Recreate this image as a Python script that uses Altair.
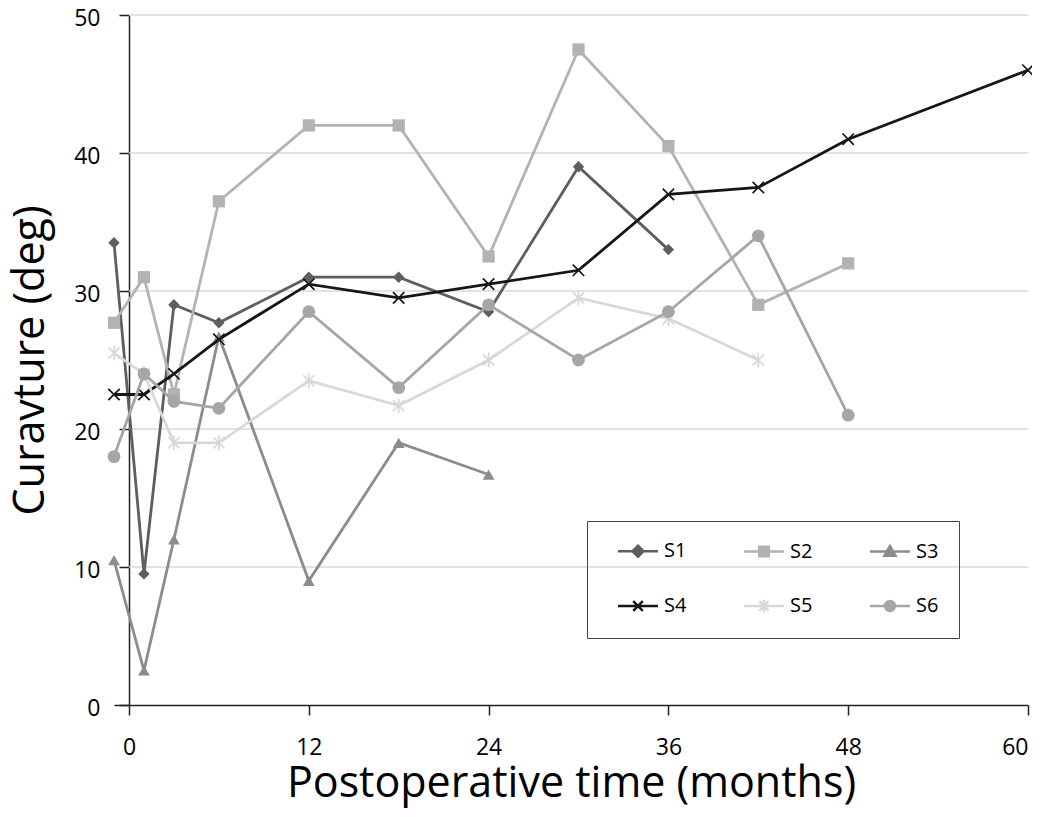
import altair as alt
import pandas as pd

# ---- data ----
months = [-1, 1, 3, 6, 12, 18, 24, 30, 36, 42, 48, 60]
names = ["S1", "S2", "S3", "S4", "S5", "S6"]
s1 = [33.5, 9.5, 29.0, 27.7, 31.0, 31.0, 28.5, 39.0, 33.0]
s2 = [27.7, 31.0, 22.5, 36.5, 42.0, 42.0, 32.5, 47.5, 40.5, 29.0, 32.0]
s3 = [10.5, 2.5, 12.0, 26.7, 9.0, 19.0, 16.7]
s4 = [22.5, 22.5, 24.0, 26.5, 30.5, 29.5, 30.5, 31.5, 37.0, 37.5, 41.0, 46.0]
s5 = [25.5, 24.0, 19.0, 19.0, 23.5, 21.7, 25.0, 29.5, 28.0, 25.0]
s6 = [18.0, 24.0, 22.0, 21.5, 28.5, 23.0, 29.0, 25.0, 28.5, 34.0, 21.0]
series_vals = [s1, s2, s3, s4, s5, s6]
x_ticks = [0, 12, 24, 36, 48, 60]
y_ticks = [0, 10, 20, 30, 40, 50]
grid_vals = [10, 20, 30, 40, 50]

# ---- styles ----
colors = ["#5e5e5e", "#b3b3b3", "#8c8c8c", "#161616", "#d8d8d8", "#a6a6a6"]
XPATH = "M-1,-1L1,1M-1,1L1,-1"
ASTER = "M-1,-1L1,1M-1,1L1,-1M0,-1.3L0,1.3"
marker_shapes = ["diamond", "square", "triangle-up", XPATH, ASTER, "circle"]
marker_filled = [True, True, True, False, False, True]
marker_sizes = [130, 150, 140, 130, 130, 165]

LINE = "M-2.6,0L2.6,0"
legend_paths = [
    LINE + "M0,-0.72L0.72,0L0,0.72L-0.72,0Z",
    LINE + "M-0.62,-0.62H0.62V0.62H-0.62Z",
    LINE + "M0,-0.7L0.72,0.55L-0.72,0.55Z",
    LINE + "M-0.62,-0.62L0.62,0.62M-0.62,0.62L0.62,-0.62",
    LINE + "M-0.62,-0.62L0.62,0.62M-0.62,0.62L0.62,-0.62M0,-0.8L0,0.8",
    LINE + "M0.65,0A0.65,0.65 0 1,1 -0.65,0A0.65,0.65 0 1,1 0.65,0Z",
]

FONT = "Open Sans"
W, H = 914, 690

rows = []
for name, vals in zip(names, series_vals):
    for m, v in zip(months, vals):
        rows.append({"series": name, "month": m, "value": v})
df = pd.DataFrame(rows)
grid_df = pd.DataFrame({"g": grid_vals})

xs = alt.Scale(domain=[-1, 60], nice=False, zero=False)
ys = alt.Scale(domain=[0, 50], nice=False, zero=False)

x_axis = alt.Axis(
    values=x_ticks,
    title="Postoperative time (months)",
    titleFont=FONT,
    titleFontSize=43,
    titleFontWeight="normal",
    titleColor="#000000",
    titlePadding=3,
    titleLimit=2000,
    labelFont=FONT,
    labelFontSize=23,
    labelColor="#000000",
    labelPadding=21,
    tickSize=10,
    tickColor="#222222",
    tickWidth=1.5,
    domainColor="#222222",
    domainWidth=1.5,
    grid=False,
)
y_axis = alt.Axis(
    values=y_ticks,
    title="Curavture (deg)",
    titleFont=FONT,
    titleFontSize=43,
    titleFontWeight="normal",
    titleColor="#000000",
    titlePadding=21,
    titleLimit=2000,
    labelFont=FONT,
    labelFontSize=23,
    labelColor="#000000",
    labelPadding=19,
    labelOffset=3,
    tickSize=10,
    tickColor="#222222",
    tickWidth=1.5,
    domainColor="#222222",
    domainWidth=1.5,
    offset=-15,
    grid=False,
)

grid = alt.Chart(grid_df).mark_rule(color="#d9d9d9", strokeWidth=1.5).encode(
    x=alt.X("x0:Q", scale=xs, axis=x_axis, title="Postoperative time (months)"),
    x2=alt.datum(60),
    y=alt.Y("g:Q", scale=ys, axis=y_axis, title="Curavture (deg)"),
).transform_calculate(x0="0")

layers = [grid]
for i, name in enumerate(names):
    sub = alt.Chart(df).transform_filter(alt.datum.series == name)
    enc = dict(
        x=alt.X("month:Q", scale=xs, title="Postoperative time (months)"),
        y=alt.Y("value:Q", scale=ys, title="Curavture (deg)"),
    )
    line = sub.mark_line(color=colors[i], strokeWidth=2.8).encode(order="month:Q", **enc)
    if marker_filled[i]:
        pts = sub.mark_point(
            shape=marker_shapes[i], filled=True, fill=colors[i], size=marker_sizes[i], opacity=1
        )
    else:
        pts = sub.mark_point(
            shape=marker_shapes[i], filled=False, stroke=colors[i], strokeWidth=1.7,
            size=marker_sizes[i], opacity=1
        )
    pts = pts.encode(**enc)
    layers += [line, pts]

leg = alt.Legend(
    orient="none",
    legendX=473,
    legendY=506,
    columns=3,
    direction="horizontal",
    title=None,
    symbolSize=237,
    symbolStrokeWidth=2.5,
    symbolOffset=21,
    labelFont=FONT,
    labelFontSize=20,
    labelColor="#000000",
    labelOffset=16,
    columnPadding=46,
    rowPadding=32,
    padding=20,
    strokeColor="#444444",
)

carrier = alt.Chart(df).mark_point(filled=True, opacity=1).encode(
    x=alt.X("month:Q", scale=xs, title="Postoperative time (months)"),
    y=alt.Y("value:Q", scale=ys, title="Curavture (deg)"),
    shape=alt.Shape("series:N", scale=alt.Scale(domain=names, range=legend_paths), legend=leg),
    fill=alt.Fill("series:N", scale=alt.Scale(domain=names, range=colors), legend=leg),
    stroke=alt.Stroke("series:N", scale=alt.Scale(domain=names, range=colors), legend=leg),
).transform_filter("datum.value > 1000")
layers.append(carrier)

chart = alt.layer(*layers).properties(
    width=W,
    height=H,
    background="white",
    autosize=alt.AutoSizeParams(type="none"),
    padding={"left": 106, "top": 7, "right": 4, "bottom": 104},
).configure_view(stroke=None)

chart.save("out.html", embed_options={"renderer": "svg", "actions": False})
